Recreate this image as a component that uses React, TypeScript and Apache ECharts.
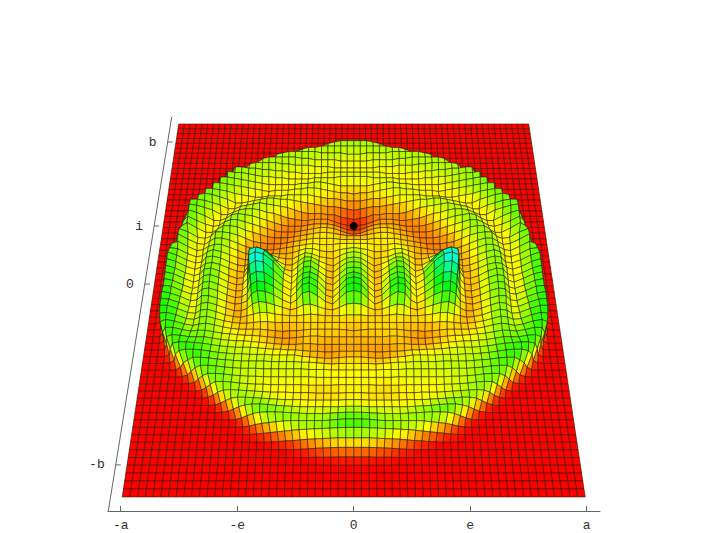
import React, { useEffect, useRef } from "react";
import * as echarts from "echarts";

// Surface height, expressed as hue / 5 (0 red, 12 yellow, 24 green, 36 cyan).
// Rows run from the far edge to the near edge, columns from the centre line outward (the plot is mirror-symmetric).
const HEIGHT_ROWS: number[][] = [
  [0],[0],[0],[0],[0],[0],[0],
  [7,7,6,5,3,1],
  [16,16,16,15,14,12,8,3],
  [16,16,16,16,16,16,15,15,14,12,8,3],
  [14,14,15,15,15,15,16,16,16,16,16,15,14,10,4],
  [13,13,13,14,14,14,14,15,15,16,16,16,16,16,15,12,5],
  [12,12,12,12,13,13,13,14,14,14,15,15,16,16,16,16,15,11,4],
  [13,13,13,13,13,12,12,12,12,13,13,14,14,15,15,16,16,17,17,11,3],
  [14,14,14,13,13,13,13,12,12,12,12,13,13,14,14,15,16,17,17,18,10,2],
  [11,11,11,12,13,14,14,13,13,12,12,12,12,12,13,14,15,16,17,18,18,9,2],
  [9,10,10,11,12,13,14,14,13,13,12,12,12,11,12,13,14,15,16,17,18,18,8,1],
  [8,8,9,10,10,11,12,13,13,13,13,12,12,12,11,11,12,13,14,16,17,18,18,7,1],
  [5,6,7,8,8,9,10,11,12,13,14,14,15,15,14,13,12,11,11,14,16,18,19,18,7,1],
  [2,3,4,6,6,7,7,7,8,10,12,13,14,15,16,15,14,13,11,11,14,16,18,19,19,7,1],
  [1,2,3,5,7,7,7,6,6,7,8,10,12,13,15,16,16,15,13,11,11,15,17,19,20,12,2],
  [2,3,5,7,8,8,8,7,6,6,6,7,9,11,13,15,16,17,16,13,11,11,15,18,20,14,3],
  [4,5,7,9,10,10,9,8,7,6,6,6,7,9,11,13,15,17,17,15,12,11,13,16,20,16,4],
  [8,8,9,10,11,11,10,9,8,7,6,6,6,7,9,11,13,16,17,17,14,11,11,15,20,17,5],
  [10,10,10,11,11,11,11,10,9,8,7,6,6,6,7,8,11,14,16,17,17,13,11,12,17,20,8,1],
  [12,12,12,11,11,11,12,11,10,9,8,7,6,6,6,7,9,12,15,17,17,14,11,12,16,21,13,2],
  [14,13,12,10,10,11,13,13,11,9,8,8,8,7,6,7,8,11,14,17,17,15,12,11,15,20,18,3],
  [16,15,12,9,10,11,14,15,12,9,9,10,13,15,14,8,8,10,13,16,18,16,12,11,14,19,20,4],
  [17,16,12,8,10,13,17,17,13,9,9,13,22,26,24,11,8,9,12,16,18,17,12,11,14,19,22,8,1],
  [19,18,13,8,10,15,20,19,14,9,11,20,31,34,32,15,8,9,12,16,18,17,13,11,14,19,22,8,1],
  [20,19,13,8,10,16,21,20,14,9,14,26,34,36,33,16,9,8,11,16,19,18,13,11,14,19,22,8,1],
  [22,20,14,8,10,18,22,21,15,9,14,24,33,34,30,15,9,8,11,16,19,18,13,11,15,20,22,8,1],
  [24,22,14,8,10,19,24,22,15,9,14,22,29,30,26,14,9,8,11,16,19,18,13,11,15,20,22,8,1],
  [25,23,15,8,11,20,25,23,15,9,14,21,26,27,23,13,9,8,11,16,19,18,13,12,16,21,22,8,1],
  [24,22,15,8,11,18,23,21,13,9,13,19,23,24,20,12,9,8,11,15,18,18,13,12,17,21,23,9,1],
  [17,16,12,9,10,13,16,15,11,9,12,15,18,19,16,11,8,8,11,15,18,17,13,13,18,22,23,9,1],
  [11,11,10,10,10,11,12,11,10,10,11,12,14,14,12,10,8,9,11,15,18,17,13,14,19,23,23,10,1],
  [10,10,10,10,10,10,10,10,10,10,10,10,11,11,10,9,9,10,12,15,18,17,14,15,20,23,22,8,1],
  [8,9,10,10,10,10,10,9,8,8,7,8,9,10,10,10,10,11,13,16,18,17,15,17,21,23,20,6],
  [9,9,9,9,9,10,10,9,8,7,7,8,9,10,11,11,12,13,14,16,18,18,17,19,22,22,15,3],
  [8,8,8,8,8,8,9,9,8,8,8,9,10,11,12,13,13,14,15,17,19,19,19,21,22,19,8,1],
  [8,8,8,7,7,8,8,9,10,10,11,11,12,13,14,14,14,15,16,18,20,21,22,22,20,12,3],
  [10,10,9,8,8,9,10,11,13,13,13,13,14,14,14,15,15,16,17,19,21,22,22,20,14,5,1],
  [11,11,11,10,11,12,13,13,14,14,14,14,15,15,15,15,16,17,18,20,21,21,17,12,5,1],
  [12,12,12,12,13,13,13,14,14,14,14,14,14,15,15,15,16,17,19,20,20,16,10,4,1],
  [12,12,12,12,12,12,13,13,13,13,13,13,13,14,14,15,16,18,19,19,15,9,3,1],
  [12,12,12,11,11,11,11,12,12,12,12,12,13,13,14,15,17,18,18,13,7,2],
  [11,11,10,10,10,10,11,11,11,12,12,12,13,14,15,16,17,16,12,6,2],
  [12,12,11,11,11,11,11,12,12,12,13,14,15,16,17,17,15,10,5,1],
  [14,14,13,13,13,13,13,13,14,15,16,18,19,19,17,13,8,3,1],
  [18,18,17,16,15,15,15,16,17,18,19,19,18,15,10,5,1],
  [21,21,20,18,17,17,17,17,17,16,14,12,10,7,3,1],
  [20,20,19,18,17,16,15,14,12,10,8,6,4,2,1],
  [13,13,13,12,11,10,9,7,5,4,2,1],
  [8,8,8,7,6,5,3,2,1],
  [2,2,2,1,1,1],
  [0],[0],[0],[0],[0],
];

const X_TICK_VALUES = [-1, -0.5, 0, 0.5, 1];
const X_TICK_LABELS = ["-a", "-e", "0", "e", "a"];
const Y_TICK_DEPTHS = [0.062, 0.3287, 0.4943, 0.9325];
const Y_TICK_LABELS = ["b", "i", "0", "-b"];
const MARKED_POINT = [[0, 226]];

const COLS = 30;
const ROWS = HEIGHT_ROWS.length - 1;
const PX_PER_A = 233;
const FAR_W = 356;
const TOP_EDGE_W = 350;
const NEAR_W = 463;
const FAR_Y = 124;
const NEAR_Y = 497;
const NADIR_Y = 530;
const LIFT = 0.00389;

function planeY(t: number) {
  const w = 1 / (1 / FAR_W + (1 / NEAR_W - 1 / FAR_W) * t);
  return FAR_Y + ((w - FAR_W) * (NEAR_Y - FAR_Y)) / (NEAR_W - FAR_W);
}
function planeWidthAt(y: number) {
  return TOP_EDGE_W + ((y - FAR_Y) * (NEAR_W - TOP_EDGE_W)) / (NEAR_Y - FAR_Y);
}
function level(i: number, j: number) {
  const row = HEIGHT_ROWS[i];
  const k = Math.abs(j);
  return k < row.length ? row[k] : 0;
}
function project(i: number, j: number) {
  const y = planeY(i / ROWS);
  const x = ((planeWidthAt(y) / 2) * (j / COLS)) / PX_PER_A;
  const f = LIFT * level(i, j);
  return { x: x * (1 + f), y: y + (y - NADIR_Y) * f, bx: x * PX_PER_A, by: y };
}

function buildCells() {
  const cells: { value: number[]; d: number }[] = [];
  for (let i = 0; i < ROWS; i++) {
    for (let j = -COLS; j < COLS; j++) {
      const a = project(i, j), b = project(i, j + 1), c = project(i + 1, j + 1), d = project(i + 1, j);
      const v = (level(i, j) + level(i, j + 1) + level(i + 1, j) + level(i + 1, j + 1)) / 4;
      const cx = (a.bx + c.bx) / 2, cy = (a.by + c.by) / 2;
      cells.push({
        value: [a.x, a.y, b.x, b.y, c.x, c.y, d.x, d.y, v * 5],
        d: Math.hypot(cx, cy - NADIR_Y),
      });
    }
  }
  cells.sort((p, q) => q.d - p.d);
  return cells.map((c) => c.value);
}

export default function App() {
  const ref = useRef<HTMLDivElement>(null);
  useEffect(() => {
    const chart = echarts.init(ref.current!, undefined, { renderer: "svg" });
    const font = '13px "Liberation Mono", monospace';
    chart.setOption({
      animation: false,
      backgroundColor: "#fff",
      grid: { left: 108, right: 108, top: 117, bottom: 22 },
      xAxis: {
        type: "value",
        min: -1.0545,
        max: 1.057,
        splitLine: { show: false },
        axisLine: { onZero: false, lineStyle: { color: "#666", width: 1 } },
        axisTick: { inside: true, length: 5, customValues: X_TICK_VALUES, lineStyle: { color: "#666" } },
        axisLabel: {
          customValues: X_TICK_VALUES,
          margin: 8,
          color: "#333",
          fontFamily: '"Liberation Mono", monospace',
          fontSize: 13,
          formatter: (v: number) => X_TICK_LABELS[X_TICK_VALUES.indexOf(v)] ?? "",
        },
      },
      yAxis: { type: "value", inverse: true, min: 117, max: 511, show: false },
      series: [
        {
          type: "custom",
          silent: true,
          clip: false,
          progressive: 0,
          data: buildCells(),
          renderItem: (_: any, api: any) => {
            const pts = [0, 2, 4, 6].map((k) => api.coord([api.value(k), api.value(k + 1)]));
            const hue = api.value(8);
            return {
              type: "polygon",
              shape: { points: pts },
              style: { fill: `hsl(${hue},100%,50%)`, stroke: "rgba(45,25,0,0.66)", lineWidth: 0.9 },
            };
          },
        },
        {
          type: "custom",
          silent: true,
          clip: false,
          data: Y_TICK_DEPTHS.map((t, i) => [t, i]),
          renderItem: (_: any, api: any) => {
            const t = api.value(0);
            const label = Y_TICK_LABELS[api.value(1)];
            const y = api.coord([0, planeY(t)])[1];
            const x = 108.3 + ((511 - y) * 63.4) / 394;
            return {
              type: "group",
              children: [
                { type: "line", shape: { x1: x, y1: y, x2: x + 5, y2: y }, style: { stroke: "#666", lineWidth: 1 } },
                { type: "text", style: { text: label, x: x - 11, y, font, fill: "#333", align: "right", verticalAlign: "middle" } },
              ],
            };
          },
        },
        {
          type: "scatter",
          silent: true,
          data: MARKED_POINT,
          symbolSize: 8,
          itemStyle: { color: "#000", opacity: 1 },
          z: 5,
        },
      ],
      graphic: [
        { type: "line", shape: { x1: 108.3, y1: 511, x2: 171.7, y2: 117 }, style: { stroke: "#666", lineWidth: 1 } },
      ],
    });
    return () => chart.dispose();
  }, []);
  return <div ref={ref} style={{ width: 708, height: 533, position: "absolute", left: 0, top: 0 }} />;
}
